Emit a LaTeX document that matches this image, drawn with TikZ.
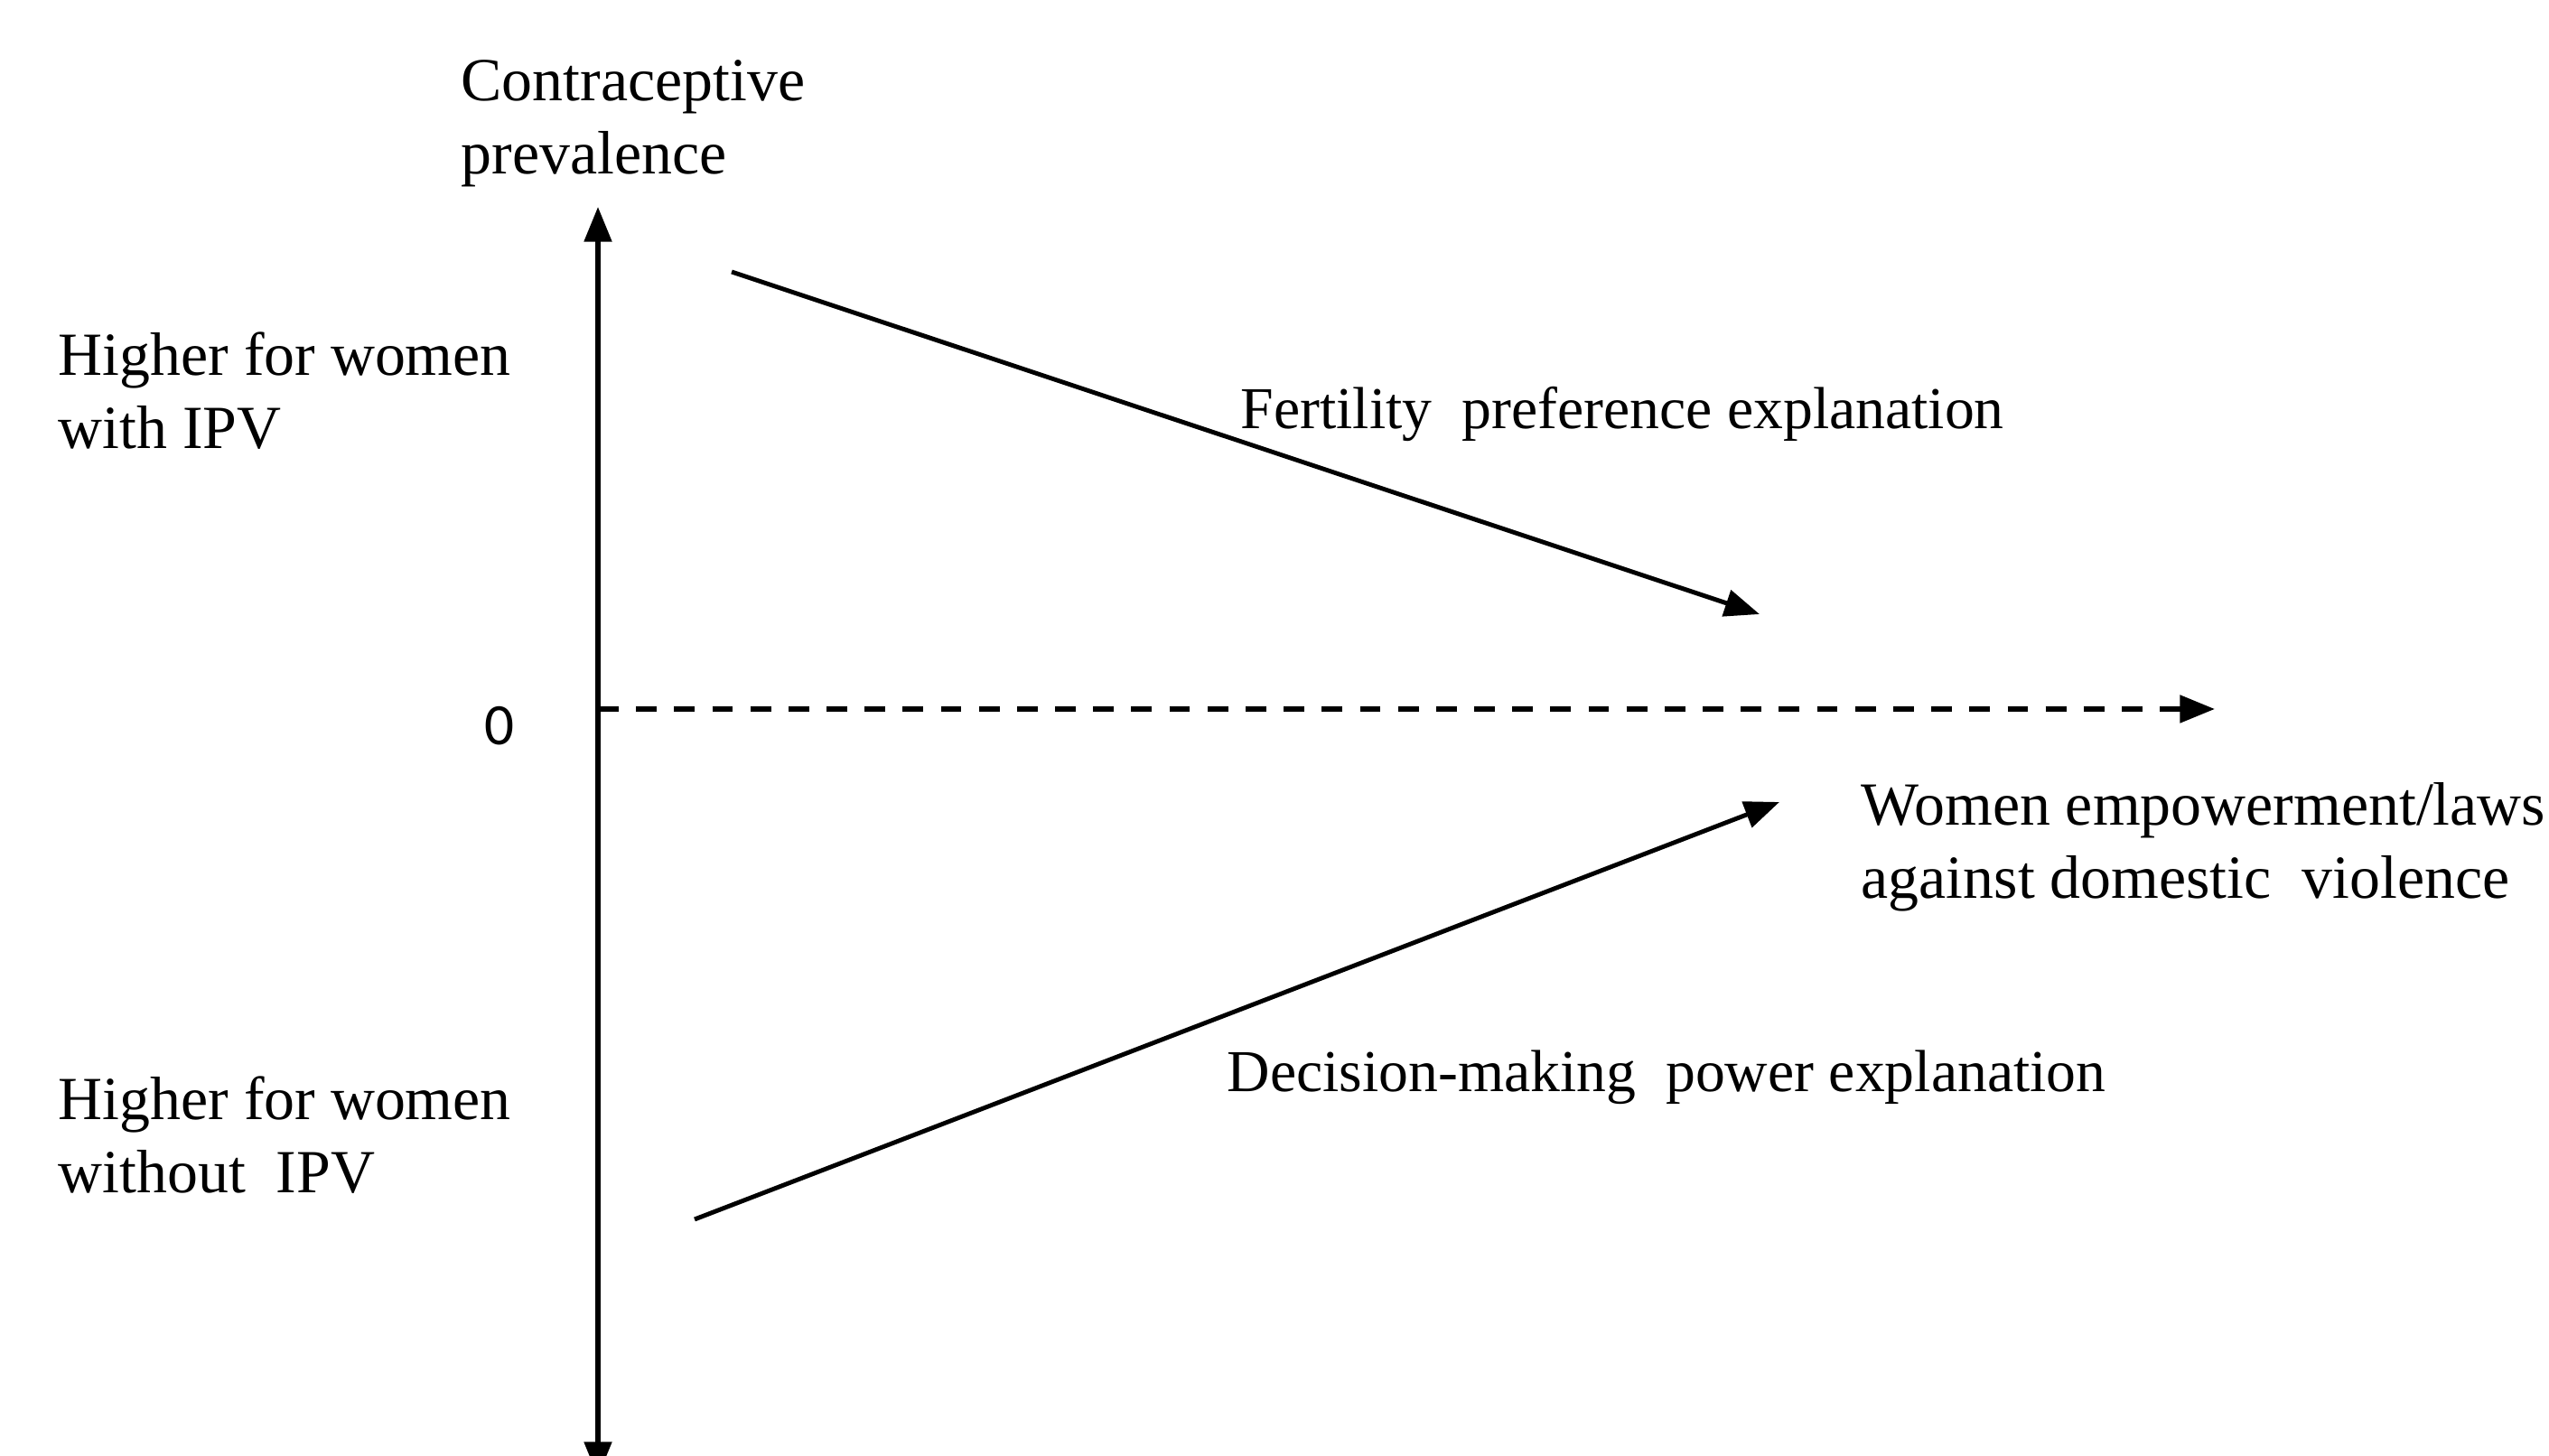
\documentclass[tikz,border=0pt]{standalone}
\usepackage{fontspec}
\setmainfont{Liberation Serif}
\newfontfamily\zerofont{Carlito}
\usetikzlibrary{arrows.meta}

\begin{document}
\begin{tikzpicture}[
	lbl/.style = {anchor = base west, align = left, inner sep = 0pt, font = \fontsize{19.3}{23.2}\selectfont},
	small/.style = {font = \fontsize{18.7}{22.4}\selectfont},
	axis/.style = {line width = 1.6pt, -{Triangle[length = 11pt, width = 8.5pt]}},
	trend/.style = {line width = 1.4pt, -{Triangle[length = 11pt, width = 8.5pt]}},
]
	\useasboundingbox (0, 0) rectangle (28.22, -16.12);
	\clip (0, 0) rectangle (28.22, -16.12);
	%%%%%%%%%%%%%
	\coordinate (top) at (6.62, -2.29);
	\coordinate (bot) at (6.62, -16.35);
	\coordinate (o) at (6.62, -7.85);
	\coordinate (xend) at (24.52, -7.85);
	\coordinate (f1) at (8.10, -3.01);
	\coordinate (f2) at (19.48, -6.80);
	\coordinate (d1) at (7.69, -13.50);
	\coordinate (d2) at (19.70, -8.88);
	%%%%%%%%%%%%%
	% multi-line labels sit on the baseline of their last line
	\node[lbl] (yname) at (5.10, -1.93) {Contraceptive\\prevalence};
	\node[lbl] (hiwith) at (0.64, -4.97) {Higher for women\\with IPV};
	\node[lbl] (hiwout) at (0.64, -13.21) {Higher for women\\without\ \ IPV};
	\node[anchor = base, inner sep = 0pt, font = \zerofont\fontsize{18.5}{20}\selectfont] (zero) at (5.53, -8.25) {0};
	\node[lbl, small] (fert) at (13.73, -4.75) {Fertility\ \ preference explanation};
	\node[lbl] (xname) at (20.60, -9.95) {Women empowerment/laws\\against domestic\ \ violence};
	\node[lbl, small] (dec) at (13.58, -12.09) {Decision-making\ \ power explanation};
	%%%%%%%%%%%%%
	\draw[axis] (o) to (top);
	\draw[axis] (o) to (bot);
	\draw[axis, dash pattern = on 6.5pt off 5.5pt] (o) to (xend);
	\draw[trend] (f1) to (f2);
	\draw[trend] (d1) to (d2);
	%%%%%%%%%%%%%
\end{tikzpicture}
\end{document}
